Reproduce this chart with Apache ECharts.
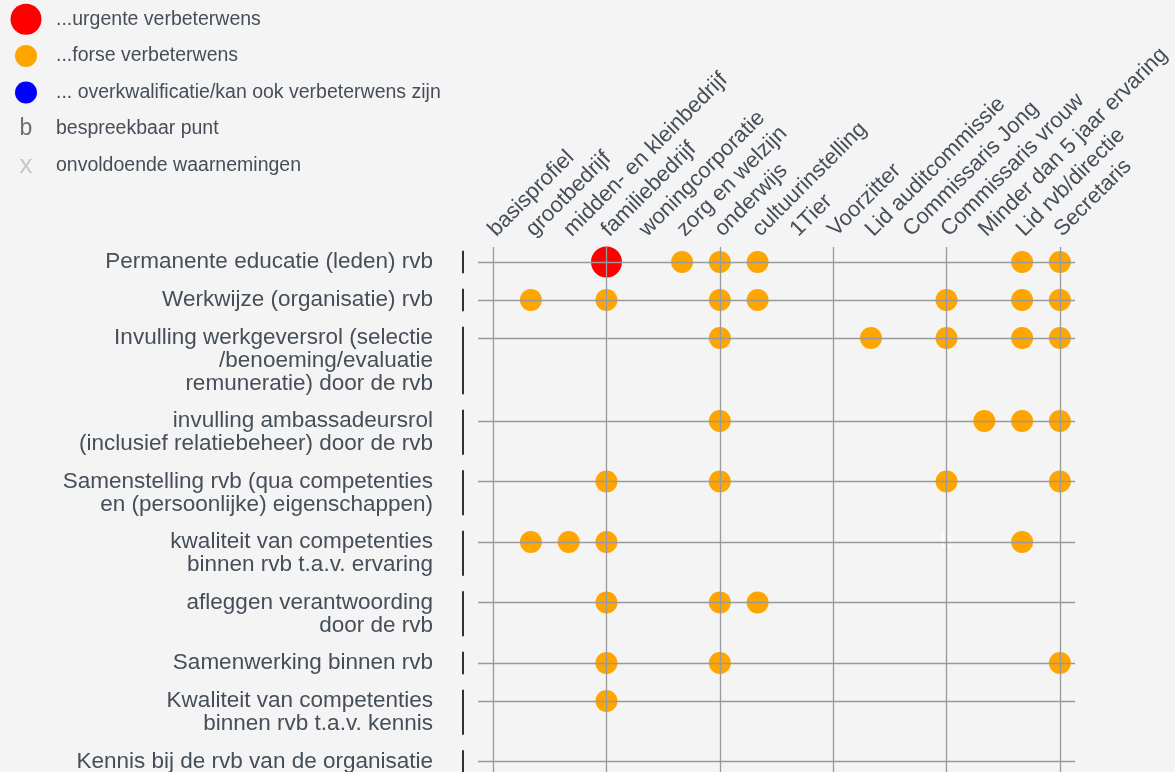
<!DOCTYPE html>
<html>
<head>
<meta charset="utf-8">
<title>Verbeterwensen rvb</title>
<script src="https://cdn.jsdelivr.net/npm/echarts@6/dist/echarts.min.js"></script>
<style>
    html, body { margin: 0; padding: 0; background: #f4f4f4; }
    #chart { width: 1175px; height: 772px; }
</style>
</head>
<body>
<div id="chart"></div>
<script>
// kolommen (profielen)
var columns = ['basisprofiel', 'grootbedrijf', 'midden- en kleinbedrijf', 'familiebedrijf',
    'woningcorporatie', 'zorg en welzijn', 'onderwijs', 'cultuurinstelling', '1Tier',
    'Voorzitter', 'Lid auditcommissie', 'Commissaris Jong', 'Commissaris vrouw',
    'Minder dan 5 jaar ervaring', 'Lid rvb/directie', 'Secretaris'];

// rijen (onderwerpen)
var rows = [
    'Permanente educatie (leden) rvb',
    'Werkwijze (organisatie) rvb',
    'Invulling werkgeversrol (selectie\n/benoeming/evaluatie\nremuneratie) door de rvb',
    'invulling ambassadeursrol\n(inclusief relatiebeheer) door de rvb',
    'Samenstelling rvb (qua competenties\nen (persoonlijke) eigenschappen)',
    'kwaliteit van competenties\nbinnen rvb t.a.v. ervaring',
    'afleggen verantwoording\ndoor de rvb',
    'Samenwerking binnen rvb',
    'Kwaliteit van competenties\nbinnen rvb t.a.v. kennis',
    'Kennis bij de rvb van de organisatie'
];

// [kolom, rij]
var urgent = [[3, 0]];
var forse = [
    [5, 0], [6, 0], [7, 0], [14, 0], [15, 0],
    [1, 1], [3, 1], [6, 1], [7, 1], [12, 1], [14, 1], [15, 1],
    [6, 2], [10, 2], [12, 2], [14, 2], [15, 2],
    [6, 3], [13, 3], [14, 3], [15, 3],
    [3, 4], [6, 4], [12, 4], [15, 4],
    [1, 5], [2, 5], [3, 5], [14, 5],
    [3, 6], [6, 6], [7, 6],
    [3, 7], [6, 7], [15, 7],
    [3, 8]
];
var overkwalificatie = [];
var bespreekbaar = [[12, 5]];
var onvoldoende = [];

var legendItems = ['...urgente verbeterwens', '...forse verbeterwens',
    '... overkwalificatie/kan ook verbeterwens zijn', 'bespreekbaar punt', 'onvoldoende waarnemingen'];

var guideColumns = [0, 3, 6, 9, 12, 15];

var font = "'Liberation Sans', Arial, sans-serif";
var textColor = '#454e59';

// rijhoogte volgt het aantal regels van het label
var lineH = 22.5, rowGap = 15.5, firstRow = 15;
var lineCount = rows.map(function (r) { return r.split('\n').length; });
var rowY = [];
var acc = firstRow;
lineCount.forEach(function (n) {
    rowY.push(acc);
    acc += n * lineH + rowGap;
});
var rowTop = rowY.map(function (v) { return v - lineH / 2; });

function toPoints(list) {
    return list.map(function (p) { return [p[0], rowY[p[1]]]; });
}

var chart = echarts.init(document.getElementById('chart'));

var option = {
    backgroundColor: '#f4f4f4',
    animation: false,
    textStyle: { fontFamily: font },
    grid: [
        { left: 478, top: 247, width: 597, height: 560, outerBoundsMode: 'none', containLabel: false },
        { left: 492, top: 247, width: 566, height: 10, outerBoundsMode: 'none', containLabel: false },
        { left: 14, top: 1, width: 24, height: 183, outerBoundsMode: 'none', containLabel: false }
    ],
    xAxis: [
        { type: 'value', gridIndex: 0, min: -0.4, max: 15.4, show: false },
        {
            type: 'value', gridIndex: 1, position: 'top', min: 0, max: 15, interval: 1,
            axisLine: { show: false }, axisTick: { show: false }, splitLine: { show: false },
            axisLabel: {
                rotate: 45, margin: 14, fontSize: 22, color: textColor, fontFamily: font,
                formatter: function (v) { return columns[v]; }
            }
        },
        { type: 'category', gridIndex: 2, data: ['s'], show: false }
    ],
    yAxis: [
        {
            type: 'value', gridIndex: 0, min: 0, max: 560, inverse: true,
            axisLine: { show: false }, axisTick: { show: false }, splitLine: { show: false },
            axisLabel: {
                customValues: rowTop, verticalAlign: 'top', align: 'right', margin: 45,
                fontSize: 22.5, lineHeight: 22.8, color: textColor, fontFamily: font,
                formatter: function (v) {
                    var best = 0;
                    rowTop.forEach(function (t, i) {
                        if (Math.abs(t - v) < Math.abs(rowTop[best] - v)) best = i;
                    });
                    return rows[best];
                }
            }
        },
        { type: 'value', gridIndex: 1, show: false },
        {
            type: 'category', gridIndex: 2, data: legendItems, inverse: true, position: 'right',
            axisLine: { show: false }, axisTick: { show: false },
            axisLabel: { margin: 18, fontSize: 19.5, color: textColor, fontFamily: font }
        }
    ],
    series: [
        {
            name: 'raster', type: 'scatter', xAxisIndex: 0, yAxisIndex: 0, data: [], z: 1,
            markLine: {
                silent: true, symbol: ['none', 'none'], label: { show: false },
                lineStyle: { color: '#999', width: 1.3, type: 'solid' },
                data: rowY.map(function (v) { return { yAxis: v }; })
                    .concat(guideColumns.map(function (c) { return { xAxis: c }; }))
            }
        },
        {
            name: 'haken', type: 'custom', xAxisIndex: 0, yAxisIndex: 0, z: 1,
            data: rows.map(function (r, i) { return [i, rowTop[i]]; }),
            renderItem: function (params, api) {
                var i = api.value(0);
                var x = api.coord([-0.4, 0])[0] - 15;
                var y1 = api.coord([0, rowTop[i]])[1];
                var y2 = api.coord([0, rowTop[i] + lineCount[i] * lineH])[1];
                return {
                    type: 'line',
                    shape: { x1: x, y1: y1, x2: x, y2: y2 },
                    style: { stroke: '#000', lineWidth: 1.6 }
                };
            }
        },
        {
            name: legendItems[0], type: 'scatter', xAxisIndex: 0, yAxisIndex: 0, z: 3,
            symbolSize: 31, itemStyle: { color: '#ff0000', opacity: 1 },
            data: toPoints(urgent)
        },
        {
            name: legendItems[1], type: 'scatter', xAxisIndex: 0, yAxisIndex: 0, z: 3,
            symbolSize: 22, itemStyle: { color: '#ffa500', opacity: 1 },
            data: toPoints(forse)
        },
        {
            name: legendItems[2], type: 'scatter', xAxisIndex: 0, yAxisIndex: 0, z: 3,
            symbolSize: 22, itemStyle: { color: '#0000ff', opacity: 1 },
            data: toPoints(overkwalificatie)
        },
        {
            name: legendItems[3], type: 'scatter', xAxisIndex: 0, yAxisIndex: 0, z: 3,
            symbolSize: 1, itemStyle: { color: 'rgba(0,0,0,0)' },
            label: { show: true, position: 'inside', formatter: 'b', color: '#ffffff', fontSize: 22.5, fontFamily: font },
            data: toPoints(bespreekbaar)
        },
        {
            name: legendItems[4], type: 'scatter', xAxisIndex: 0, yAxisIndex: 0, z: 3,
            symbolSize: 1, itemStyle: { color: 'rgba(0,0,0,0)' },
            label: { show: true, position: 'inside', formatter: 'x', color: '#bbbbbb', fontSize: 26, fontFamily: font },
            data: toPoints(onvoldoende)
        },
        {
            name: 'legenda', type: 'scatter', xAxisIndex: 2, yAxisIndex: 2, silent: true,
            data: [
                { value: [0, 0], symbolSize: 31, itemStyle: { color: '#ff0000', opacity: 1 } },
                { value: [0, 1], symbolSize: 22, itemStyle: { color: '#ffa500', opacity: 1 } },
                { value: [0, 2], symbolSize: 22, itemStyle: { color: '#0000ff', opacity: 1 } },
                {
                    value: [0, 3], symbolSize: 1, itemStyle: { color: 'rgba(0,0,0,0)' },
                    label: { show: true, position: 'inside', formatter: 'b', color: textColor, fontSize: 23, fontFamily: font }
                },
                {
                    value: [0, 4], symbolSize: 1, itemStyle: { color: 'rgba(0,0,0,0)' },
                    label: { show: true, position: 'inside', formatter: 'x', color: '#bbbbbb', fontSize: 26, fontFamily: font }
                }
            ]
        }
    ]
};

chart.setOption(option);
</script>
</body>
</html>
